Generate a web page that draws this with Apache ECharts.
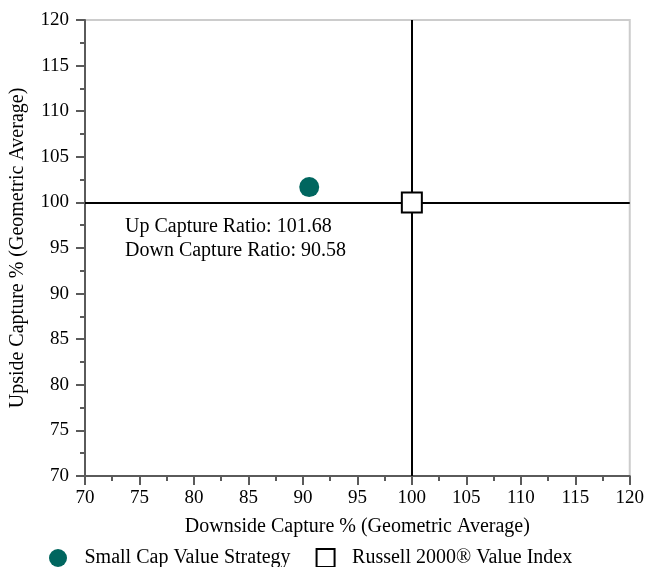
<!DOCTYPE html>
<html>
<head>
<meta charset="utf-8">
<script src="https://cdn.jsdelivr.net/npm/echarts@6/dist/echarts.min.js"></script>
<style>html,body{margin:0;padding:0;background:#fff;}#c{width:647px;height:567px;}</style>
</head>
<body>
<div id="c"></div>
<script>
var seriesNames = ['Small Cap Value Strategy', 'Russell 2000® Value Index'];
var strategyPoint = [90.58, 101.68]; // [downside, upside]
var benchmarkPoint = [100, 100];
var xTicks = [70, 75, 80, 85, 90, 95, 100, 105, 110, 115, 120];
var yTicks = [70, 75, 80, 85, 90, 95, 100, 105, 110, 115, 120];
var refX = 100, refY = 100;

var font = 'Liberation Serif, Times New Roman, serif';
var chart = echarts.init(document.getElementById('c'));
var axisCommon = {
  interval: 5,
  axisLine: {show: true, onZero: false, lineStyle: {color: '#5a5a5a', width: 2}},
  axisTick: {show: true, length: 9, lineStyle: {color: '#5a5a5a', width: 2}},
  minorTick: {show: true, splitNumber: 2, length: 5, lineStyle: {color: '#5a5a5a', width: 2}},
  splitLine: {show: false},
  axisLabel: {color: '#000', fontFamily: font, fontSize: 19},
  nameTextStyle: {color: '#000', fontFamily: font, fontSize: 20}
};
chart.setOption({
  animation: false,
  grid: {left: 83, right: 16, top: 20, bottom: 91, show: true, borderColor: '#cccccc', borderWidth: 2, backgroundColor: '#fff'},
  xAxis: Object.assign({}, axisCommon, {
    type: 'value', min: xTicks[0], max: xTicks[xTicks.length - 1],
    name: 'Downside Capture % (Geometric Average)', nameLocation: 'middle', nameGap: 41,
    axisLabel: Object.assign({}, axisCommon.axisLabel, {margin: 13})
  }),
  yAxis: Object.assign({}, axisCommon, {
    type: 'value', min: yTicks[0], max: yTicks[yTicks.length - 1],
    name: 'Upside Capture % (Geometric Average)', nameLocation: 'middle', nameGap: 57,
    axisLabel: Object.assign({}, axisCommon.axisLabel, {margin: 16})
  }),
  legend: {
    top: 548, left: 49, padding: 0, itemWidth: 18, itemHeight: 18, itemGap: 25,
    textStyle: {color: '#000', fontFamily: font, fontSize: 20, padding: [0, 0, 0, 12.5]},
    data: [
      {name: seriesNames[0], icon: 'circle'},
      {name: seriesNames[1], icon: 'rect'}
    ]
  },
  graphic: [{
    type: 'text', left: 125, top: 215,
    style: {
      text: 'Up Capture Ratio: ' + strategyPoint[1].toFixed(2) + '\nDown Capture Ratio: ' + strategyPoint[0].toFixed(2),
      fill: '#000', font: '20px ' + font, lineHeight: 24
    },
    z: 10
  }],
  series: [
    {
      name: seriesNames[1], type: 'scatter', symbol: 'rect', symbolSize: 20, z: 5,
      itemStyle: {color: '#fff', borderColor: '#000', borderWidth: 2, opacity: 1},
      data: [benchmarkPoint],
      markLine: {
        silent: true, symbol: 'none', label: {show: false},
        lineStyle: {color: '#000', width: 2, type: 'solid', opacity: 1},
        data: [{xAxis: refX}, {yAxis: refY}],
        z: 3
      }
    },
    {
      name: seriesNames[0], type: 'scatter', symbol: 'circle', symbolSize: 20, z: 6,
      itemStyle: {color: '#00665f', opacity: 1},
      data: [strategyPoint]
    }
  ]
});
</script>
</body>
</html>
